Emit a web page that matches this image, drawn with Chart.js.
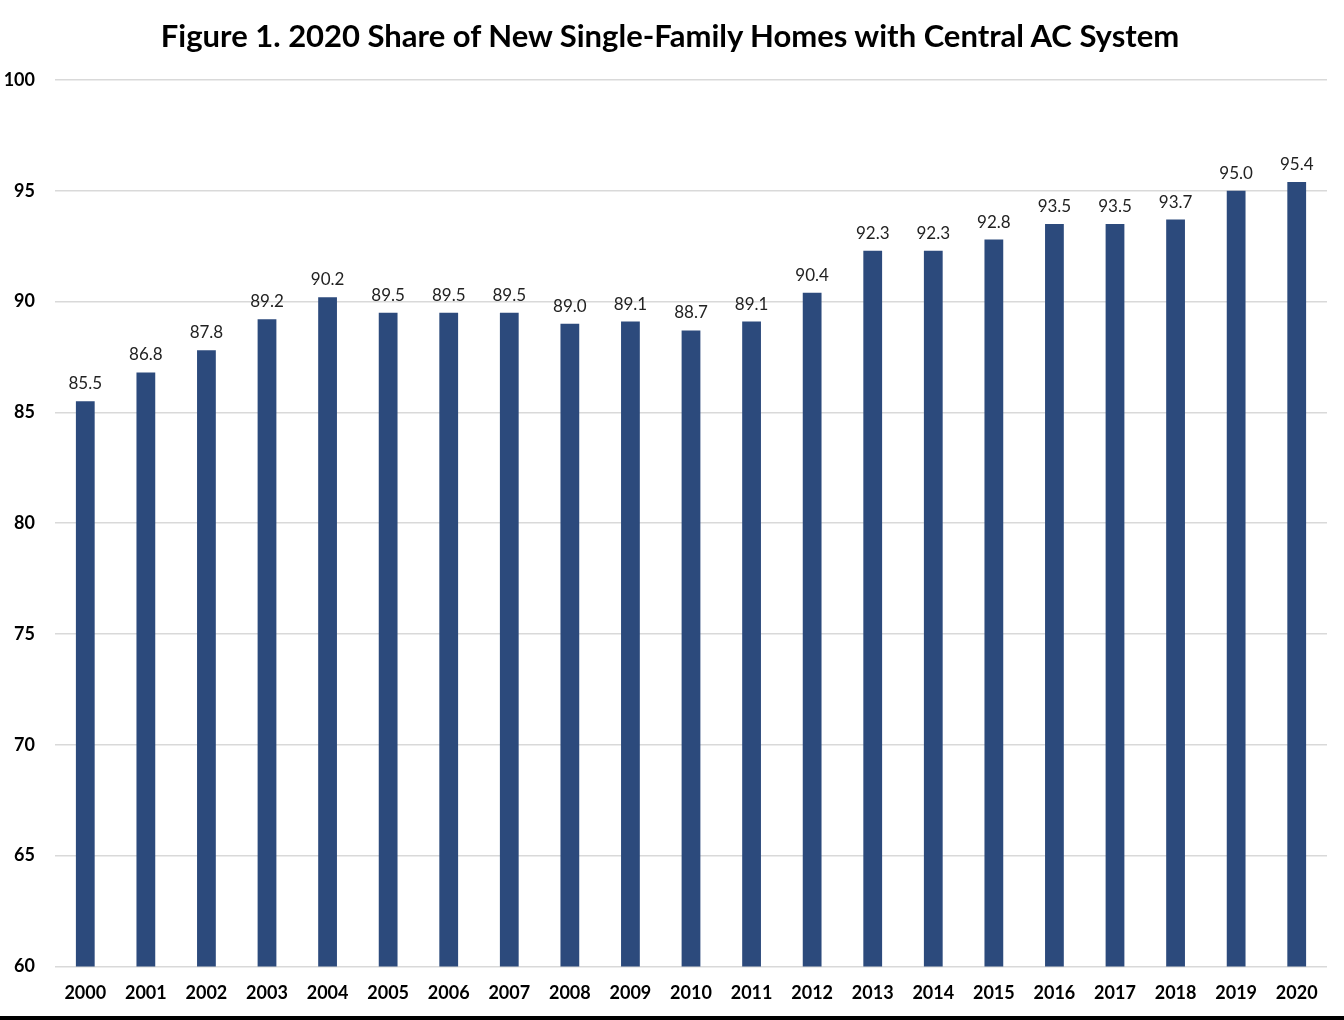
<!DOCTYPE html>
<html>
<head>
<meta charset="utf-8">
<script src="https://cdn.jsdelivr.net/npm/chart.js@4/dist/chart.umd.min.js"></script>
<style>
  html, body { margin: 0; padding: 0; background: #fff; overflow: hidden; }
  #wrap { width: 1344px; height: 1020px; position: relative; overflow: hidden; }
  #bar { position: absolute; left: 0; top: 1016px; width: 1344px; height: 4px; background: #000; }
  #title { position: absolute; left: 0; top: 16px; width: 1340px; text-align: center;
    font-family: Lato, "Open Sans", sans-serif; font-weight: bold; font-size: 31px; color: #000; }
  canvas { position: absolute; left: 0; top: 0; }
</style>
</head>
<body>
<div id="wrap">
  <canvas id="c" width="1344" height="1034"></canvas>
  <div id="title">Figure 1. 2020 Share of New Single-Family Homes with Central AC System</div>
  <div id="bar"></div>
</div>
<script>
const years = ["2000","2001","2002","2003","2004","2005","2006","2007","2008","2009","2010","2011","2012","2013","2014","2015","2016","2017","2018","2019","2020"];
const sharePct = [85.5,86.8,87.8,89.2,90.2,89.5,89.5,89.5,89.0,89.1,88.7,89.1,90.4,92.3,92.3,92.8,93.5,93.5,93.7,95.0,95.4];
const yMin = 60, yMax = 100, yStep = 5;

const barLabels = {
  id: 'barLabels',
  afterDatasetsDraw(chart) {
    const ctx = chart.ctx;
    const meta = chart.getDatasetMeta(0);
    ctx.save();
    ctx.font = '17px Lato, "Open Sans", sans-serif';
    ctx.fillStyle = '#222';
    ctx.textAlign = 'center';
    ctx.textBaseline = 'bottom';
    meta.data.forEach((el, i) => {
      ctx.fillText(sharePct[i].toFixed(1), el.x, el.y - 9);
    });
    ctx.restore();
  }
};

new Chart(document.getElementById('c'), {
  type: 'bar',
  data: {
    labels: years,
    datasets: [{
      data: sharePct,
      backgroundColor: '#2C4A7C',
      barPercentage: 0.62,
      categoryPercentage: 0.5
    }]
  },
  options: {
    responsive: false,
    animation: false,
    layout: { padding: { top: 80, right: 17, bottom: 14, left: 0 } },
    plugins: { legend: { display: false }, title: { display: false }, tooltip: { enabled: false } },
    scales: {
      x: {
        grid: { display: false, drawTicks: false },
        border: { display: false },
        ticks: { color: '#000', padding: 16, font: { family: 'Lato, "Open Sans", sans-serif', size: 18, weight: 'bold' } }
      },
      y: {
        min: yMin, max: yMax,
        afterFit(scale) { scale.width = 55; },
        grid: { color: '#d9d9d9', lineWidth: 1.5, drawTicks: false },
        border: { display: false },
        ticks: { stepSize: yStep, color: '#000', padding: 20, font: { family: 'Lato, "Open Sans", sans-serif', size: 18, weight: 'bold' } }
      }
    }
  },
  plugins: [barLabels]
});
</script>
</body>
</html>
